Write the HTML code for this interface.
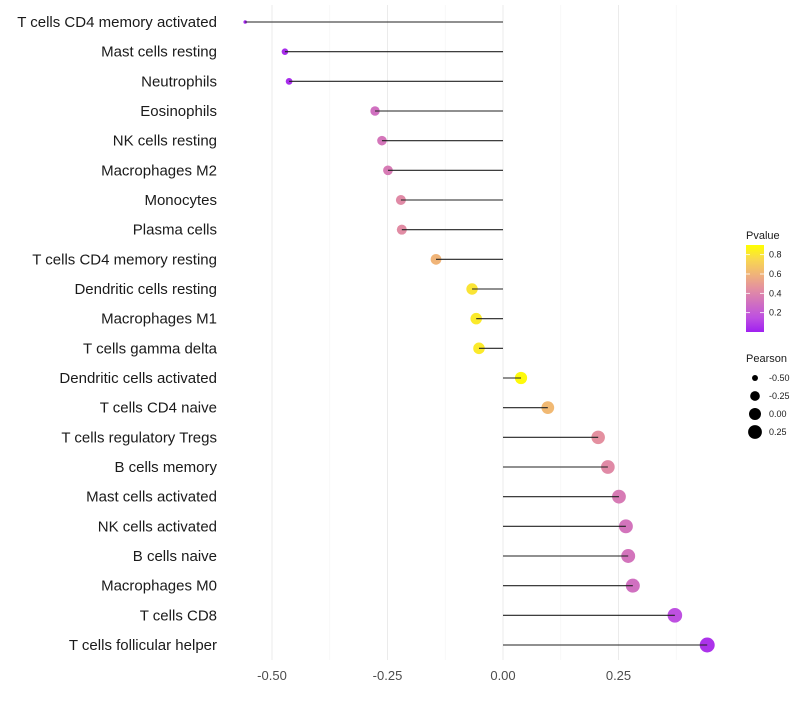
<!DOCTYPE html>
<html><head><meta charset="utf-8"><style>
body{margin:0;background:#fff;font-family:"Liberation Sans",sans-serif}
svg text{font-family:"Liberation Sans",sans-serif}
</style></head><body>
<svg id="c" width="800" height="700">
<defs><linearGradient id="pg" x1="0" y1="1" x2="0" y2="0">
<stop offset="0" stop-color="#a020f0"/><stop offset="0.167" stop-color="#be50e1"/><stop offset="0.333" stop-color="#d070c0"/><stop offset="0.5" stop-color="#e490a0"/><stop offset="0.667" stop-color="#f0b478"/><stop offset="0.833" stop-color="#f8d750"/><stop offset="1" stop-color="#ffff00"/></linearGradient></defs>
</svg>
<script>
const categories=["T cells CD4 memory activated","Mast cells resting","Neutrophils","Eosinophils","NK cells resting","Macrophages M2","Monocytes","Plasma cells","T cells CD4 memory resting","Dendritic cells resting","Macrophages M1","T cells gamma delta","Dendritic cells activated","T cells CD4 naive","T cells regulatory  Tregs","B cells memory","Mast cells activated","NK cells activated","B cells naive","Macrophages M0","T cells CD8","T cells follicular helper"];
const pearson=[-0.558,-0.472,-0.463,-0.277,-0.262,-0.249,-0.221,-0.219,-0.145,-0.067,-0.058,-0.052,0.039,0.097,0.206,0.227,0.251,0.266,0.271,0.281,0.372,0.442];
const pvalue=[0.02,0.04,0.04,0.3,0.33,0.35,0.42,0.43,0.6,0.8,0.82,0.82,0.88,0.62,0.45,0.42,0.35,0.32,0.32,0.3,0.15,0.06];
const xTicks=[-0.5,-0.25,0,0.25];
const xTickLabels=["-0.50","-0.25","0.00","0.25"];
const cbTicks=[0.2,0.4,0.6,0.8];
const sizeTicks=[-0.5,-0.25,0,0.25];
const sizeLabels=["-0.50","-0.25","0.00","0.25"];
const NS="http://www.w3.org/2000/svg",svg=document.getElementById('c');
function mk(t,a,p){const e=document.createElementNS(NS,t);for(const k in a)e.setAttribute(k,a[k]);(p||svg).appendChild(e);return e;}
const xs=v=>503+v*462;
const ys=i=>22+i*(623/21);
const rs=v=>1.5+6*Math.sqrt(Math.max(0,v+0.56));
const stops=[[0,[160,32,240]],[0.15,[190,80,225]],[0.3,[208,112,192]],[0.45,[228,144,160]],[0.6,[240,180,120]],[0.75,[248,215,80]],[0.9,[255,255,0]]];
function col(p){for(let i=1;i<stops.length;i++){if(p<=stops[i][0]){const a=stops[i-1],b=stops[i],f=Math.max(0,(p-a[0])/(b[0]-a[0]));return 'rgb('+a[1].map((c,j)=>Math.round(c+(b[1][j]-c)*f)).join(',')+')';}}return 'rgb(255,255,0)';}
for(const m of [-0.375,-0.125,0.125,0.375]){const g=mk('line',{x1:xs(m),x2:xs(m),y1:5,y2:660,stroke:'#f4f4f4','stroke-width':0.6});

}
xTicks.forEach((v,i)=>{const g=mk('line',{x1:xs(v),x2:xs(v),y1:5,y2:660,stroke:'#ebebeb','stroke-width':1});


const t=mk('text',{x:xs(v),y:680,'text-anchor':'middle','font-size':13,fill:'#4d4d4d'});t.textContent=xTickLabels[i];

});
categories.forEach((c,i)=>{const y=ys(i);
const t=mk('text',{x:217,y:y+5,'text-anchor':'end','font-size':15,fill:'#1a1a1a'});t.textContent=c;


const d=mk('circle',{cx:xs(pearson[i]),cy:y,r:rs(pearson[i]),fill:col(pvalue[i])});


const l=mk('line',{x1:xs(0),x2:xs(pearson[i]),y1:y,y2:y,stroke:'#222','stroke-width':1.1});

});
const lt=mk('text',{x:746,y:239,'font-size':11,fill:'#1a1a1a'});lt.textContent='Pvalue';


const cb=mk('rect',{x:746,y:245,width:18,height:87,fill:'url(#pg)'});


const cy=p=>332-p*(87/0.9);
cbTicks.forEach(p=>{mk('line',{x1:746,x2:750,y1:cy(p),y2:cy(p),stroke:'#fff','stroke-width':0.8});mk('line',{x1:760,x2:764,y1:cy(p),y2:cy(p),stroke:'#fff','stroke-width':0.8});
const t=mk('text',{x:769,y:cy(p)+3,'font-size':9,fill:'#1a1a1a'});t.textContent=p.toFixed(1);

});
const st=mk('text',{x:746,y:362,'font-size':11,fill:'#1a1a1a'});st.textContent='Pearson';


sizeTicks.forEach((v,i)=>{const y=378+i*18;const d=mk('circle',{cx:755,cy:y,r:rs(v),fill:'#000'});


const t=mk('text',{x:769,y:y+3,'font-size':9,fill:'#1a1a1a'});t.textContent=sizeLabels[i];

});
</script>
</body></html>
